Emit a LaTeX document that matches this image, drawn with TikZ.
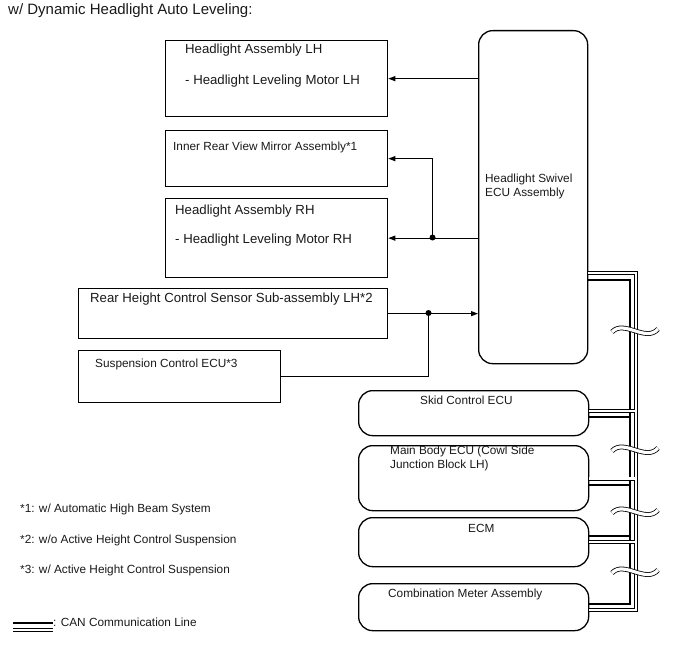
\documentclass[tikz,border=0pt]{standalone}
\usepackage{fontspec}
\setmainfont{Liberation Sans}
\usepackage{xcolor}
\definecolor{txtgray}{RGB}{25,25,25}
\usetikzlibrary{arrows.meta, positioning, calc}
\newcommand{\lblfont}{\fontsize{11.8}{14}\selectfont}
\newcommand{\bigfont}{\fontsize{13.2}{15}\selectfont}
\newcommand{\ttlfont}{\fontsize{15}{17}\selectfont}
\tikzset{
  box/.style={draw, line width=1.3pt, anchor=north west, inner sep=0pt},
  ecubox/.style={box, rounded corners=14pt},
  lbl/.style={font=\lblfont, anchor=west, inner sep=0pt, text=txtgray},
  biglbl/.style={lbl, font=\bigfont},
  sig/.style={line width=1.1pt},
  arr/.style={sig, -{Triangle[length=7pt,width=5pt]}},
  dot/.style={circle, fill, inner sep=0pt, minimum size=6pt},
  canthick/.style={line width=2.6pt},
  canthin/.style={line width=0.8pt, double, double distance=2.4pt},
  brk/.style={line width=0.8pt, double, double distance=3.2pt},
}

\begin{document}
\begin{tikzpicture}[x=1pt, y=-1pt]
  \useasboundingbox (0,0) rectangle (688,658);
  \node[lbl, font=\ttlfont] (title) at (8,11) {w/ Dynamic Headlight Auto Leveling:};

  % --- Left side: headlights, mirror, sensors ---
  \node[box, minimum width=222pt, minimum height=76pt] (hlLH) at (165,40) {};
  \node[biglbl] (hlLHa) at (185,50) {Headlight Assembly LH};
  \node[biglbl] (hlLHb) at (185,81) {- Headlight Leveling Motor LH};

  \node[box, minimum width=222pt, minimum height=56pt] (mirror) at (165,130) {};
  \node[lbl] (mirrorA) at (173,147) {Inner Rear View Mirror Assembly*1};

  \node[box, minimum width=222pt, minimum height=79pt] (hlRH) at (165,198) {};
  \node[biglbl] (hlRHa) at (175,211) {Headlight Assembly RH};
  \node[biglbl] (hlRHb) at (175,240) {- Headlight Leveling Motor RH};

  \node[box, minimum width=309pt, minimum height=50pt] (rearSen) at (78,288) {};
  \node[biglbl] (rearSenA) at (90,299) {Rear Height Control Sensor Sub-assembly LH*2};

  \node[box, minimum width=202pt, minimum height=52pt] (suspEcu) at (78,350) {};
  \node[lbl] (suspEcuA) at (95,364) {Suspension Control ECU*3};

  % --- Swivel ECU ---
  \node[ecubox, minimum width=109pt, minimum height=333pt] (swivel) at (478,30) {};
  \node[lbl, align=left, anchor=north west] (swivelA) at (485,174) {Headlight Swivel\\ECU Assembly};

  % Signal lines
  \node[dot] (jRH) at (432.5,237.5) {};
  \node[dot] (jRS) at (428.5,313) {};
  \draw[arr] (swivel.west |- hlLH.east) -- (hlLH.east);
  \draw[arr] (swivel.west |- hlRH.east) -- (hlRH.east);
  \draw[arr] (jRH.center) |- (mirror.east);
  \draw[arr] (rearSen.east) -- (swivel.west |- rearSen.east);
  \draw[sig] (jRS.center) |- (suspEcu.east);

  % --- CAN side ---
  \node[ecubox, minimum width=230pt, minimum height=45pt] (skid) at (358,390) {};
  \node[lbl] (skidA) at (420,400) {Skid Control ECU};
  \node[ecubox, minimum width=230pt, minimum height=65pt] (mainB) at (358,445) {};
  \node[lbl, align=left, anchor=north west] (mainBA) at (390,446) {Main Body ECU (Cowl Side\\Junction Block LH)};
  \node[ecubox, minimum width=230pt, minimum height=49pt] (ecm) at (358,517) {};
  \node[lbl] (ecmA) at (468,528) {ECM};
  \node[ecubox, minimum width=230pt, minimum height=47pt] (meter) at (358,583) {};
  \node[lbl] (meterA) at (388,594) {Combination Meter Assembly};

  % bus rows (thick / thin pair) and trunk
  \coordinate (busA) at (630,0);
  \coordinate (busB) at (636,0);
  \coordinate (cSw) at (0,280);   \coordinate (nSw) at (0,273);
  \coordinate (cSk) at (0,417);   \coordinate (nSk) at (0,411);
  \coordinate (cMb) at (0,485);   \coordinate (nMb) at (0,478.5);
  \coordinate (cEc) at (0,536);   \coordinate (nEc) at (0,542);
  \coordinate (cMt) at (0,604);   \coordinate (nMt) at (0,610);
  \draw[canthick] (swivel.east |- cSw) -| (busA |- cMt) -- (meter.east |- cMt)
    (skid.east |- cSk) -- (busA |- cSk)
    (mainB.east |- cMb) -- (busA |- cMb)
    (ecm.east |- cEc) -- (busA |- cEc);
  \draw[canthin] (swivel.east |- nSw) -| (busB |- nMt) -- (meter.east |- nMt)
    (skid.east |- nSk) -- (busB |- nSk)
    (mainB.east |- nMb) -- (busB |- nMb)
    (ecm.east |- nEc) -- (busB |- nEc);
  % break marks
  \foreach \y in {330,449,511,571}
    \draw[brk] (612,{\y+2}) .. controls (624,{\y-11}) and (646,{\y+13}) .. (658,{\y-1});

  % --- Notes and legend ---
  \node[lbl] (note1) at (20,509) {*1: w/ Automatic High Beam System};
  \node[lbl] (note2) at (20,540) {*2: w/o Active Height Control Suspension};
  \node[lbl] (note3) at (20,570) {*3: w/ Active Height Control Suspension};
  \coordinate (lgA) at (13,623);
  \coordinate (lgB) at (53,623);
  \draw[canthick] (lgA) -- (lgB);
  \draw[canthin] ($(lgA)+(0,7)$) -- ($(lgB)+(0,7)$);
  \node[lbl] (legend) at (53,622) {: CAN Communication Line};
\end{tikzpicture}
\end{document}
